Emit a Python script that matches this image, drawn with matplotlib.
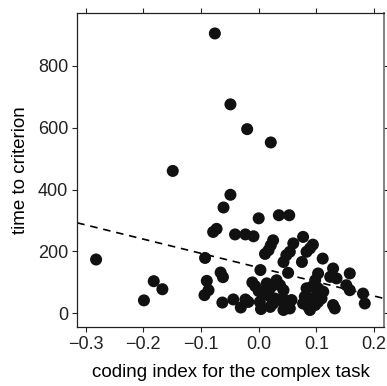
import matplotlib
matplotlib.use("Agg")
import matplotlib.pyplot as plt
import numpy as np


# coding index (x) and time to criterion (y)
coding_index = [
    -0.076, -0.049, -0.020, 0.021, -0.149, -0.049, -0.061, 0.000, 0.035, 0.053,
    -0.073, -0.079, -0.282, -0.199, -0.182, -0.167, -0.093, -0.041, -0.023, -0.009,
    -0.090, -0.087, -0.094, -0.066, -0.062, -0.063, -0.044, -0.031, -0.023, 0.004,
    0.003, -0.011, -0.006, 0.000, 0.025, 0.021, 0.017, 0.011, 0.077, 0.060,
    0.054, 0.048, 0.043, 0.075, 0.051, 0.014, 0.022, 0.031, 0.037, 0.043,
    0.008, 0.020, 0.028, 0.037, 0.046, -0.018, 0.002, 0.020, 0.025, 0.057,
    0.051, 0.054, 0.043, 0.094, 0.089, 0.083, 0.111, 0.129, 0.124, 0.135,
    0.158, 0.103, 0.098, 0.152, 0.158, 0.181, 0.184, 0.129, 0.132, 0.083,
    0.092, 0.103, 0.112, 0.080, 0.089, 0.100, 0.109, 0.077, 0.086, 0.098,
    0.089, 0.103,
]
time_to_criterion = [
    904, 675, 595, 552, 460, 383, 342, 307, 317, 317,
    273, 263, 174, 42, 104, 78, 179, 255, 255, 249,
    105, 75, 59, 132, 117, 35, 45, 19, 45, 14,
    140, 100, 88, 72, 236, 220, 204, 192, 247, 226,
    199, 188, 166, 166, 131, 97, 86, 107, 91, 75,
    64, 54, 48, 43, 43, 37, 37, 21, 32, 43,
    27, 16, 11, 222, 210, 199, 177, 145, 118, 113,
    129, 129, 107, 91, 75, 64, 32, 27, 16, 81,
    86, 81, 70, 54, 48, 54, 48, 32, 21, 27,
    11, 37,
]

# dashed regression line
fit_intercept = 148
fit_slope = -459

x_ticks = [-0.3, -0.2, -0.1, 0.0, 0.1, 0.2]
y_ticks = [0, 200, 400, 600, 800]

plt.rcParams["font.family"] = ["Liberation Sans", "DejaVu Sans"]

fig = plt.figure(figsize=(3.87, 3.86), dpi=100)
ax = fig.add_axes([0.1997, 0.1528, 0.7925, 0.8127])

ax.scatter(coding_index, time_to_criterion, s=75, color="#111111",
           edgecolors="none", zorder=3)

xlim = (-0.3146, 0.2173)
xs = np.array(xlim)
ax.plot(xs, fit_intercept + fit_slope * xs, color="black", linestyle=(0, (4.5, 3.5)),
        linewidth=1.2, zorder=2)

ax.set_xlim(*xlim)
ax.set_ylim(-44, 969)
ax.set_xticks(x_ticks)
ax.set_xticklabels([f"{t:.1f}".replace("-", "\u2212") for t in x_ticks])
ax.set_yticks(y_ticks)

ax.tick_params(direction="out", length=3.6, width=0.8, labelsize=13,
               top=True, right=True, labeltop=False, labelright=False,
               colors="#222222", pad=3)
for s in ax.spines.values():
    s.set_linewidth(0.9)
    s.set_color("#222222")
ax.spines["right"].set_color("#777777")
ax.spines["right"].set_linewidth(1.3)

ax.set_xlabel("coding index for the complex task", fontsize=13.5, labelpad=8)
ax.set_ylabel("time to criterion", fontsize=13.5, labelpad=6)

fig.savefig("out.png", dpi=100)
